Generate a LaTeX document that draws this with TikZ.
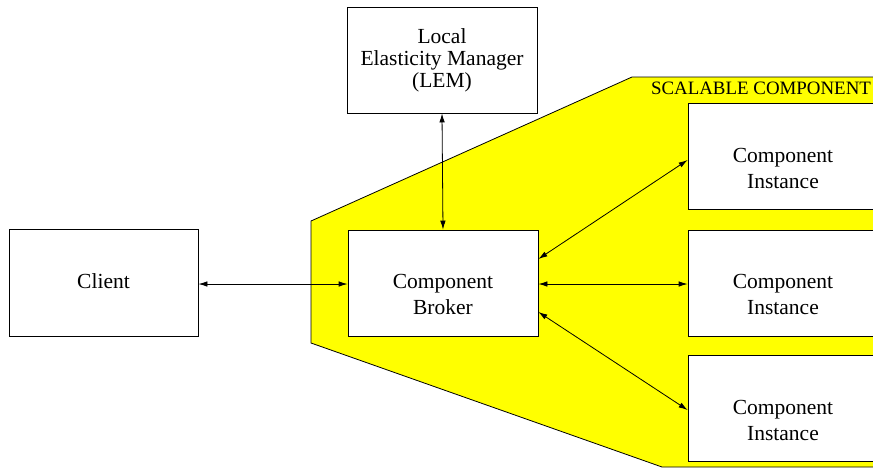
\documentclass[tikz,border=0pt]{standalone}
\usepackage{fontspec}
\setmainfont{Liberation Serif}
\usetikzlibrary{arrows.meta}
\definecolor{figyellow}{RGB}{255,255,0}
\tikzset{
  box/.style={draw=black, line width=0.8pt, fill=white, minimum width=190pt, minimum height=106pt, inner sep=0pt},
  txt/.style={align=center, inner sep=0pt, font=\fontsize{21.5}{26}\selectfont},
  link/.style={line width=0.8pt, {Latex[length=9pt,width=5.5pt]}-{Latex[length=9pt,width=5.5pt]}},
}
\begin{document}
\begin{tikzpicture}[x=1pt,y=-1pt]
\useasboundingbox (0,0) rectangle (873,469);
\clip (0,0) rectangle (873,469);
\fill[figyellow] (632,77) -- (880,77) -- (880,467) -- (662,467) -- (311,343) -- (311,221) -- cycle;
\draw[line width=0.8pt] (880,77) -- (632,77) -- (311,221) -- (311,343) -- (662,467) -- (880,467);
\node[anchor=center, inner sep=0pt, font=\fontsize{18.9}{22}\selectfont] (lbl) at (761,88) {SCALABLE COMPONENT};
\node[box, minimum width=189pt, minimum height=107pt] (client) at (103.5,282.5) {};
\node[box] (lem) at (442,60) {};
\node[box] (broker) at (443,283) {};
\node[box] (i1) at (783,156.5) {};
\node[box] (i2) at (783,283) {};
\node[box] (i3) at (783,408) {};
\node[txt] (tclient) at (103.5,281) {Client};
\node[txt, font=\fontsize{21.5}{22}\selectfont] (tlem) at (442,60) {Local\\Elasticity Manager\\(LEM)};
\node[txt] (tbroker) at (443,294) {Component\\Broker};
\node[txt] (ti1) at (783,168) {Component\\Instance};
\node[txt] (ti2) at (783,294) {Component\\Instance};
\node[txt] (ti3) at (783,420) {Component\\Instance};
\draw[link] ([yshift=-1.5pt]client.east) -- ([yshift=-1pt]broker.west);
\draw[link] (lem.south) -- (broker.north);
\draw[link] ([yshift=24pt]broker.east) -- ([yshift=-3.5pt]i1.west);
\draw[link] ([yshift=-1pt]broker.east) -- ([yshift=-1pt]i2.west);
\draw[link] ([yshift=-29pt]broker.east) -- ([yshift=-2pt]i3.west);
\end{tikzpicture}
\end{document}
